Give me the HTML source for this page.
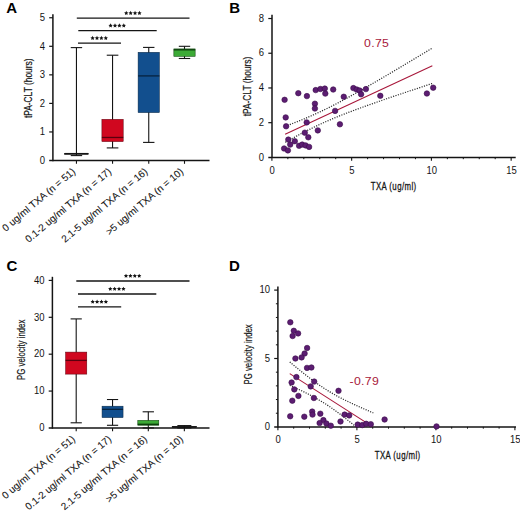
<!DOCTYPE html>
<html><head><meta charset="utf-8"><style>
html,body{margin:0;padding:0;background:#fff;}
svg{display:block;}
text{font-family:"Liberation Sans", sans-serif;}
</style></head><body>
<svg width="520" height="513" viewBox="0 0 520 513">
<rect width="520" height="513" fill="#fff"/>
<text x="6.30" y="12.60" font-size="15" text-anchor="start" fill="#000" font-weight="bold" >A</text>
<text x="229.30" y="12.60" font-size="15" text-anchor="start" fill="#000" font-weight="bold" >B</text>
<text x="6.60" y="271.20" font-size="15" text-anchor="start" fill="#000" font-weight="bold" >C</text>
<text x="229.00" y="271.00" font-size="15" text-anchor="start" fill="#000" font-weight="bold" >D</text>
<line x1="52.90" y1="14.30" x2="52.90" y2="161.20" stroke="#141414" stroke-width="1.5" />
<line x1="49.20" y1="160.50" x2="209.50" y2="160.50" stroke="#141414" stroke-width="1.5" />
<text transform="translate(45.00,163.70) scale(0.95,1)" font-size="10.0" text-anchor="end" fill="#141414">0</text>
<line x1="49.20" y1="131.95" x2="52.90" y2="131.95" stroke="#141414" stroke-width="1.2" />
<text transform="translate(45.00,135.15) scale(0.95,1)" font-size="10.0" text-anchor="end" fill="#141414">1</text>
<line x1="49.20" y1="103.40" x2="52.90" y2="103.40" stroke="#141414" stroke-width="1.2" />
<text transform="translate(45.00,106.60) scale(0.95,1)" font-size="10.0" text-anchor="end" fill="#141414">2</text>
<line x1="49.20" y1="74.85" x2="52.90" y2="74.85" stroke="#141414" stroke-width="1.2" />
<text transform="translate(45.00,78.05) scale(0.95,1)" font-size="10.0" text-anchor="end" fill="#141414">3</text>
<line x1="49.20" y1="46.30" x2="52.90" y2="46.30" stroke="#141414" stroke-width="1.2" />
<text transform="translate(45.00,49.50) scale(0.95,1)" font-size="10.0" text-anchor="end" fill="#141414">4</text>
<line x1="49.20" y1="17.75" x2="52.90" y2="17.75" stroke="#141414" stroke-width="1.2" />
<text transform="translate(45.00,20.95) scale(0.95,1)" font-size="10.0" text-anchor="end" fill="#141414">5</text>
<line x1="76.45" y1="160.50" x2="76.45" y2="163.80" stroke="#141414" stroke-width="1.1" />
<line x1="112.55" y1="160.50" x2="112.55" y2="163.80" stroke="#141414" stroke-width="1.1" />
<line x1="148.75" y1="160.50" x2="148.75" y2="163.80" stroke="#141414" stroke-width="1.1" />
<line x1="184.50" y1="160.50" x2="184.50" y2="163.80" stroke="#141414" stroke-width="1.1" />
<line x1="76.45" y1="47.61" x2="76.45" y2="155.59" stroke="#141414" stroke-width="1.1" />
<line x1="70.75" y1="47.61" x2="82.15" y2="47.61" stroke="#141414" stroke-width="1.1" />
<line x1="70.75" y1="155.59" x2="82.15" y2="155.59" stroke="#141414" stroke-width="1.1" />
<rect x="64.65" y="153.59" width="23.60" height="0.80" fill="#141414" stroke="#141414" stroke-width="0.5"/>
<line x1="64.65" y1="153.59" x2="88.25" y2="153.59" stroke="#141414" stroke-width="1.3" />
<line x1="112.55" y1="55.21" x2="112.55" y2="147.91" stroke="#141414" stroke-width="1.1" />
<line x1="106.75" y1="55.21" x2="118.35" y2="55.21" stroke="#141414" stroke-width="1.1" />
<line x1="106.75" y1="147.91" x2="118.35" y2="147.91" stroke="#141414" stroke-width="1.1" />
<rect x="101.90" y="119.30" width="21.30" height="22.30" fill="#d0071f" stroke="#5a000e" stroke-width="0.5"/>
<line x1="101.90" y1="137.46" x2="123.20" y2="137.46" stroke="#5a000e" stroke-width="1.3" />
<line x1="148.75" y1="47.41" x2="148.75" y2="142.40" stroke="#141414" stroke-width="1.1" />
<line x1="143.05" y1="47.41" x2="154.45" y2="47.41" stroke="#141414" stroke-width="1.1" />
<line x1="143.05" y1="142.40" x2="154.45" y2="142.40" stroke="#141414" stroke-width="1.1" />
<rect x="138.10" y="52.30" width="21.30" height="60.30" fill="#124f8e" stroke="#06233f" stroke-width="0.5"/>
<line x1="138.10" y1="75.91" x2="159.40" y2="75.91" stroke="#06233f" stroke-width="1.3" />
<line x1="184.50" y1="46.30" x2="184.50" y2="58.49" stroke="#141414" stroke-width="1.1" />
<line x1="178.80" y1="46.30" x2="190.20" y2="46.30" stroke="#141414" stroke-width="1.1" />
<line x1="178.80" y1="58.49" x2="190.20" y2="58.49" stroke="#141414" stroke-width="1.1" />
<rect x="173.85" y="48.90" width="21.30" height="7.51" fill="#3caa36" stroke="#0a3a0a" stroke-width="0.5"/>
<line x1="173.85" y1="49.81" x2="195.15" y2="49.81" stroke="#0a3a0a" stroke-width="1.3" />
<line x1="78.00" y1="43.10" x2="121.00" y2="43.10" stroke="#141414" stroke-width="1.3" />
<polygon points="92.60,35.85 93.26,37.19 94.74,37.40 93.67,38.45 93.92,39.92 92.60,39.23 91.28,39.92 91.53,38.45 90.46,37.40 91.94,37.19" fill="#141414"/>
<polygon points="97.00,35.85 97.66,37.19 99.14,37.40 98.07,38.45 98.32,39.92 97.00,39.23 95.68,39.92 95.93,38.45 94.86,37.40 96.34,37.19" fill="#141414"/>
<polygon points="101.40,35.85 102.06,37.19 103.54,37.40 102.47,38.45 102.72,39.92 101.40,39.23 100.08,39.92 100.33,38.45 99.26,37.40 100.74,37.19" fill="#141414"/>
<polygon points="105.80,35.85 106.46,37.19 107.94,37.40 106.87,38.45 107.12,39.92 105.80,39.23 104.48,39.92 104.73,38.45 103.66,37.40 105.14,37.19" fill="#141414"/>
<line x1="78.30" y1="30.60" x2="156.70" y2="30.60" stroke="#141414" stroke-width="1.3" />
<polygon points="110.60,23.35 111.26,24.69 112.74,24.90 111.67,25.95 111.92,27.42 110.60,26.73 109.28,27.42 109.53,25.95 108.46,24.90 109.94,24.69" fill="#141414"/>
<polygon points="115.00,23.35 115.66,24.69 117.14,24.90 116.07,25.95 116.32,27.42 115.00,26.73 113.68,27.42 113.93,25.95 112.86,24.90 114.34,24.69" fill="#141414"/>
<polygon points="119.40,23.35 120.06,24.69 121.54,24.90 120.47,25.95 120.72,27.42 119.40,26.73 118.08,27.42 118.33,25.95 117.26,24.90 118.74,24.69" fill="#141414"/>
<polygon points="123.80,23.35 124.46,24.69 125.94,24.90 124.87,25.95 125.12,27.42 123.80,26.73 122.48,27.42 122.73,25.95 121.66,24.90 123.14,24.69" fill="#141414"/>
<line x1="76.80" y1="18.10" x2="189.50" y2="18.10" stroke="#141414" stroke-width="1.3" />
<polygon points="126.25,10.85 126.91,12.19 128.39,12.40 127.32,13.45 127.57,14.92 126.25,14.23 124.93,14.92 125.18,13.45 124.11,12.40 125.59,12.19" fill="#141414"/>
<polygon points="130.65,10.85 131.31,12.19 132.79,12.40 131.72,13.45 131.97,14.92 130.65,14.23 129.33,14.92 129.58,13.45 128.51,12.40 129.99,12.19" fill="#141414"/>
<polygon points="135.05,10.85 135.71,12.19 137.19,12.40 136.12,13.45 136.37,14.92 135.05,14.23 133.73,14.92 133.98,13.45 132.91,12.40 134.39,12.19" fill="#141414"/>
<polygon points="139.45,10.85 140.11,12.19 141.59,12.40 140.52,13.45 140.77,14.92 139.45,14.23 138.13,14.92 138.38,13.45 137.31,12.40 138.79,12.19" fill="#141414"/>
<text transform="translate(32.00,88.30) rotate(-90) scale(0.84,1)" font-size="10" text-anchor="middle" fill="#141414" stroke="#141414" stroke-width="0.2">tPA-CLT (hours)</text>
<text transform="translate(75.95,172.70) rotate(-40.2)" font-size="10.0" text-anchor="end" fill="#141414" stroke="#141414" stroke-width="0.1">0 ug/ml TXA (n = 51)</text>
<text transform="translate(112.05,172.70) rotate(-40.2)" font-size="10.0" text-anchor="end" fill="#141414" stroke="#141414" stroke-width="0.1">0.1-2 ug/ml TXA (n = 17)</text>
<text transform="translate(148.25,172.70) rotate(-40.2)" font-size="10.0" text-anchor="end" fill="#141414" stroke="#141414" stroke-width="0.1">2.1-5 ug/ml TXA (n = 16)</text>
<text transform="translate(184.00,172.70) rotate(-40.2)" font-size="10.0" text-anchor="end" fill="#141414" stroke="#141414" stroke-width="0.1">&gt;5 ug/ml TXA (n = 10)</text>
<line x1="52.40" y1="276.80" x2="52.40" y2="428.70" stroke="#141414" stroke-width="1.5" />
<line x1="48.70" y1="428.00" x2="209.50" y2="428.00" stroke="#141414" stroke-width="1.5" />
<text transform="translate(44.50,431.15) scale(0.95,1)" font-size="10.0" text-anchor="end" fill="#141414">0</text>
<line x1="48.70" y1="391.07" x2="52.40" y2="391.07" stroke="#141414" stroke-width="1.2" />
<text transform="translate(44.50,394.27) scale(0.95,1)" font-size="10.0" text-anchor="end" fill="#141414">10</text>
<line x1="48.70" y1="354.19" x2="52.40" y2="354.19" stroke="#141414" stroke-width="1.2" />
<text transform="translate(44.50,357.39) scale(0.95,1)" font-size="10.0" text-anchor="end" fill="#141414">20</text>
<line x1="48.70" y1="317.31" x2="52.40" y2="317.31" stroke="#141414" stroke-width="1.2" />
<text transform="translate(44.50,320.51) scale(0.95,1)" font-size="10.0" text-anchor="end" fill="#141414">30</text>
<line x1="48.70" y1="280.43" x2="52.40" y2="280.43" stroke="#141414" stroke-width="1.2" />
<text transform="translate(44.50,283.63) scale(0.95,1)" font-size="10.0" text-anchor="end" fill="#141414">40</text>
<line x1="76.20" y1="428.00" x2="76.20" y2="431.30" stroke="#141414" stroke-width="1.1" />
<line x1="112.55" y1="428.00" x2="112.55" y2="431.30" stroke="#141414" stroke-width="1.1" />
<line x1="148.30" y1="428.00" x2="148.30" y2="431.30" stroke="#141414" stroke-width="1.1" />
<line x1="184.35" y1="428.00" x2="184.35" y2="431.30" stroke="#141414" stroke-width="1.1" />
<line x1="76.20" y1="318.90" x2="76.20" y2="422.79" stroke="#141414" stroke-width="1.1" />
<line x1="70.60" y1="318.90" x2="81.80" y2="318.90" stroke="#141414" stroke-width="1.1" />
<line x1="70.60" y1="422.79" x2="81.80" y2="422.79" stroke="#141414" stroke-width="1.1" />
<rect x="65.60" y="352.09" width="21.20" height="22.02" fill="#d0071f" stroke="#5a000e" stroke-width="0.5"/>
<line x1="65.60" y1="360.39" x2="86.80" y2="360.39" stroke="#5a000e" stroke-width="1.3" />
<line x1="112.55" y1="399.52" x2="112.55" y2="425.29" stroke="#141414" stroke-width="1.1" />
<line x1="106.95" y1="399.52" x2="118.15" y2="399.52" stroke="#141414" stroke-width="1.1" />
<line x1="106.95" y1="425.29" x2="118.15" y2="425.29" stroke="#141414" stroke-width="1.1" />
<rect x="102.05" y="406.19" width="21.00" height="11.40" fill="#124f8e" stroke="#06233f" stroke-width="0.5"/>
<line x1="102.05" y1="409.33" x2="123.05" y2="409.33" stroke="#06233f" stroke-width="1.3" />
<line x1="148.30" y1="411.80" x2="148.30" y2="427.95" stroke="#141414" stroke-width="1.1" />
<line x1="142.65" y1="411.80" x2="153.95" y2="411.80" stroke="#141414" stroke-width="1.1" />
<line x1="142.65" y1="427.95" x2="153.95" y2="427.95" stroke="#141414" stroke-width="1.1" />
<rect x="137.80" y="420.32" width="21.00" height="4.94" fill="#3caa36" stroke="#0a3a0a" stroke-width="0.5"/>
<line x1="137.80" y1="424.30" x2="158.80" y2="424.30" stroke="#0a3a0a" stroke-width="1.3" />
<line x1="184.35" y1="425.59" x2="184.35" y2="427.95" stroke="#141414" stroke-width="1.1" />
<line x1="177.35" y1="425.59" x2="191.35" y2="425.59" stroke="#141414" stroke-width="1.1" />
<line x1="177.35" y1="427.95" x2="191.35" y2="427.95" stroke="#141414" stroke-width="1.1" />
<rect x="172.15" y="426.40" width="24.40" height="0.89" fill="#141414" stroke="#141414" stroke-width="0.5"/>
<line x1="172.15" y1="426.84" x2="196.55" y2="426.84" stroke="#141414" stroke-width="1.3" />
<line x1="78.00" y1="306.80" x2="121.20" y2="306.80" stroke="#141414" stroke-width="1.3" />
<polygon points="92.70,299.55 93.36,300.89 94.84,301.10 93.77,302.15 94.02,303.62 92.70,302.93 91.38,303.62 91.63,302.15 90.56,301.10 92.04,300.89" fill="#141414"/>
<polygon points="97.10,299.55 97.76,300.89 99.24,301.10 98.17,302.15 98.42,303.62 97.10,302.93 95.78,303.62 96.03,302.15 94.96,301.10 96.44,300.89" fill="#141414"/>
<polygon points="101.50,299.55 102.16,300.89 103.64,301.10 102.57,302.15 102.82,303.62 101.50,302.93 100.18,303.62 100.43,302.15 99.36,301.10 100.84,300.89" fill="#141414"/>
<polygon points="105.90,299.55 106.56,300.89 108.04,301.10 106.97,302.15 107.22,303.62 105.90,302.93 104.58,303.62 104.83,302.15 103.76,301.10 105.24,300.89" fill="#141414"/>
<line x1="78.00" y1="294.00" x2="156.30" y2="294.00" stroke="#141414" stroke-width="1.3" />
<polygon points="110.25,286.75 110.91,288.09 112.39,288.30 111.32,289.35 111.57,290.82 110.25,290.12 108.93,290.82 109.18,289.35 108.11,288.30 109.59,288.09" fill="#141414"/>
<polygon points="114.65,286.75 115.31,288.09 116.79,288.30 115.72,289.35 115.97,290.82 114.65,290.12 113.33,290.82 113.58,289.35 112.51,288.30 113.99,288.09" fill="#141414"/>
<polygon points="119.05,286.75 119.71,288.09 121.19,288.30 120.12,289.35 120.37,290.82 119.05,290.12 117.73,290.82 117.98,289.35 116.91,288.30 118.39,288.09" fill="#141414"/>
<polygon points="123.45,286.75 124.11,288.09 125.59,288.30 124.52,289.35 124.77,290.82 123.45,290.12 122.13,290.82 122.38,289.35 121.31,288.30 122.79,288.09" fill="#141414"/>
<line x1="76.30" y1="281.00" x2="189.50" y2="281.00" stroke="#141414" stroke-width="1.3" />
<polygon points="126.00,273.75 126.66,275.09 128.14,275.30 127.07,276.35 127.32,277.82 126.00,277.12 124.68,277.82 124.93,276.35 123.86,275.30 125.34,275.09" fill="#141414"/>
<polygon points="130.40,273.75 131.06,275.09 132.54,275.30 131.47,276.35 131.72,277.82 130.40,277.12 129.08,277.82 129.33,276.35 128.26,275.30 129.74,275.09" fill="#141414"/>
<polygon points="134.80,273.75 135.46,275.09 136.94,275.30 135.87,276.35 136.12,277.82 134.80,277.12 133.48,277.82 133.73,276.35 132.66,275.30 134.14,275.09" fill="#141414"/>
<polygon points="139.20,273.75 139.86,275.09 141.34,275.30 140.27,276.35 140.52,277.82 139.20,277.12 137.88,277.82 138.13,276.35 137.06,275.30 138.54,275.09" fill="#141414"/>
<text transform="translate(25.30,349.80) rotate(-90) scale(0.78,1)" font-size="10" text-anchor="middle" fill="#141414" stroke="#141414" stroke-width="0.2">PG velocity index</text>
<text transform="translate(75.70,440.20) rotate(-40.2)" font-size="10.0" text-anchor="end" fill="#141414" stroke="#141414" stroke-width="0.1">0 ug/ml TXA (n = 51)</text>
<text transform="translate(112.05,440.20) rotate(-40.2)" font-size="10.0" text-anchor="end" fill="#141414" stroke="#141414" stroke-width="0.1">0.1-2 ug/ml TXA (n = 17)</text>
<text transform="translate(147.80,440.20) rotate(-40.2)" font-size="10.0" text-anchor="end" fill="#141414" stroke="#141414" stroke-width="0.1">2.1-5 ug/ml TXA (n = 16)</text>
<text transform="translate(183.85,440.20) rotate(-40.2)" font-size="10.0" text-anchor="end" fill="#141414" stroke="#141414" stroke-width="0.1">&gt;5 ug/ml TXA (n = 10)</text>
<line x1="272.00" y1="14.80" x2="272.00" y2="158.10" stroke="#141414" stroke-width="1.5" />
<line x1="268.30" y1="157.40" x2="515.70" y2="157.40" stroke="#141414" stroke-width="1.5" />
<text transform="translate(264.10,160.60) scale(0.95,1)" font-size="10.0" text-anchor="end" fill="#141414">0</text>
<line x1="268.30" y1="122.68" x2="272.00" y2="122.68" stroke="#141414" stroke-width="1.2" />
<text transform="translate(264.10,125.88) scale(0.95,1)" font-size="10.0" text-anchor="end" fill="#141414">2</text>
<line x1="268.30" y1="87.96" x2="272.00" y2="87.96" stroke="#141414" stroke-width="1.2" />
<text transform="translate(264.10,91.16) scale(0.95,1)" font-size="10.0" text-anchor="end" fill="#141414">4</text>
<line x1="268.30" y1="53.24" x2="272.00" y2="53.24" stroke="#141414" stroke-width="1.2" />
<text transform="translate(264.10,56.44) scale(0.95,1)" font-size="10.0" text-anchor="end" fill="#141414">6</text>
<line x1="268.30" y1="18.52" x2="272.00" y2="18.52" stroke="#141414" stroke-width="1.2" />
<text transform="translate(264.10,21.72) scale(0.95,1)" font-size="10.0" text-anchor="end" fill="#141414">8</text>
<line x1="271.90" y1="157.40" x2="271.90" y2="160.80" stroke="#141414" stroke-width="1.1" />
<text transform="translate(272.20,173.70) scale(0.95,1)" font-size="10.0" text-anchor="middle" fill="#141414">0</text>
<line x1="287.85" y1="157.40" x2="287.85" y2="159.20" stroke="#141414" stroke-width="1.0" />
<line x1="303.80" y1="157.40" x2="303.80" y2="159.20" stroke="#141414" stroke-width="1.0" />
<line x1="319.75" y1="157.40" x2="319.75" y2="159.20" stroke="#141414" stroke-width="1.0" />
<line x1="335.70" y1="157.40" x2="335.70" y2="159.20" stroke="#141414" stroke-width="1.0" />
<line x1="351.65" y1="157.40" x2="351.65" y2="160.80" stroke="#141414" stroke-width="1.1" />
<text transform="translate(351.95,173.70) scale(0.95,1)" font-size="10.0" text-anchor="middle" fill="#141414">5</text>
<line x1="367.60" y1="157.40" x2="367.60" y2="159.20" stroke="#141414" stroke-width="1.0" />
<line x1="383.55" y1="157.40" x2="383.55" y2="159.20" stroke="#141414" stroke-width="1.0" />
<line x1="399.50" y1="157.40" x2="399.50" y2="159.20" stroke="#141414" stroke-width="1.0" />
<line x1="415.45" y1="157.40" x2="415.45" y2="159.20" stroke="#141414" stroke-width="1.0" />
<line x1="431.40" y1="157.40" x2="431.40" y2="160.80" stroke="#141414" stroke-width="1.1" />
<text transform="translate(431.70,173.70) scale(0.95,1)" font-size="10.0" text-anchor="middle" fill="#141414">10</text>
<line x1="447.35" y1="157.40" x2="447.35" y2="159.20" stroke="#141414" stroke-width="1.0" />
<line x1="463.30" y1="157.40" x2="463.30" y2="159.20" stroke="#141414" stroke-width="1.0" />
<line x1="479.25" y1="157.40" x2="479.25" y2="159.20" stroke="#141414" stroke-width="1.0" />
<line x1="495.20" y1="157.40" x2="495.20" y2="159.20" stroke="#141414" stroke-width="1.0" />
<line x1="511.15" y1="157.40" x2="511.15" y2="160.80" stroke="#141414" stroke-width="1.1" />
<text transform="translate(511.45,173.70) scale(0.95,1)" font-size="10.0" text-anchor="middle" fill="#141414">15</text>
<polyline points="285.14,126.35 285.87,126.07 286.61,125.80 287.35,125.52 288.08,125.24 288.82,124.96 289.56,124.68 290.29,124.40 291.03,124.11 291.76,123.83 292.50,123.54 293.24,123.26 293.97,122.97 294.71,122.68 295.44,122.39 296.18,122.10 296.92,121.81 297.65,121.51 298.39,121.22 299.12,120.92 299.86,120.63 300.60,120.33 301.33,120.03 302.07,119.72 302.80,119.42 303.54,119.12 304.28,118.81 305.01,118.50 305.75,118.19 306.49,117.88 307.22,117.57 307.96,117.25 308.69,116.94 309.43,116.62 310.17,116.30 310.90,115.98 311.64,115.65 312.37,115.33 313.11,115.00 313.85,114.67 314.58,114.34 315.32,114.01 316.05,113.68 316.79,113.34 317.53,113.00 318.26,112.66 319.00,112.32 319.73,111.98 320.47,111.63 321.21,111.28 321.94,110.94 322.68,110.58 323.42,110.23 324.15,109.88 324.89,109.52 325.62,109.16 326.36,108.80 327.10,108.44 327.83,108.08 328.57,107.71 329.30,107.35 330.04,106.98 330.78,106.61 331.51,106.24 332.25,105.86 332.98,105.49 333.72,105.11 334.46,104.73 335.19,104.35 335.93,103.97 336.66,103.59 337.40,103.20 338.14,102.82 338.87,102.43 339.61,102.04 340.35,101.65 341.08,101.26 341.82,100.87 342.55,100.47 343.29,100.08 344.03,99.68 344.76,99.28 345.50,98.88 346.23,98.48 346.97,98.08 347.71,97.68 348.44,97.28 349.18,96.87 349.91,96.47 350.65,96.06 351.39,95.65 352.12,95.24 352.86,94.84 353.60,94.43 354.33,94.01 355.07,93.60 355.80,93.19 356.54,92.78 357.28,92.36 358.01,91.95 358.75,91.53 359.48,91.11 360.22,90.70 360.96,90.28 361.69,89.86 362.43,89.44 363.16,89.02 363.90,88.60 364.64,88.18 365.37,87.76 366.11,87.34 366.84,86.91 367.58,86.49 368.32,86.07 369.05,85.64 369.79,85.22 370.53,84.79 371.26,84.36 372.00,83.94 372.73,83.51 373.47,83.08 374.21,82.66 374.94,82.23 375.68,81.80 376.41,81.37 377.15,80.94 377.89,80.51 378.62,80.08 379.36,79.65 380.09,79.22 380.83,78.79 381.57,78.36 382.30,77.92 383.04,77.49 383.77,77.06 384.51,76.63 385.25,76.19 385.98,75.76 386.72,75.33 387.46,74.89 388.19,74.46 388.93,74.02 389.66,73.59 390.40,73.15 391.14,72.72 391.87,72.28 392.61,71.84 393.34,71.41 394.08,70.97 394.82,70.54 395.55,70.10 396.29,69.66 397.02,69.22 397.76,68.79 398.50,68.35 399.23,67.91 399.97,67.47 400.71,67.03 401.44,66.60 402.18,66.16 402.91,65.72 403.65,65.28 404.39,64.84 405.12,64.40 405.86,63.96 406.59,63.52 407.33,63.08 408.07,62.64 408.80,62.20 409.54,61.76 410.27,61.32 411.01,60.88 411.75,60.44 412.48,60.00 413.22,59.56 413.95,59.12 414.69,58.68 415.43,58.24 416.16,57.79 416.90,57.35 417.64,56.91 418.37,56.47 419.11,56.03 419.84,55.58 420.58,55.14 421.32,54.70 422.05,54.26 422.79,53.82 423.52,53.37 424.26,52.93 425.00,52.49 425.73,52.04 426.47,51.60 427.20,51.16 427.94,50.71 428.68,50.27 429.41,49.83 430.15,49.38 430.88,48.94 431.62,48.50 432.36,48.05" fill="none" stroke="#2a2a2a" stroke-width="1.25" stroke-dasharray="1.1,1.4"/>
<polyline points="285.14,142.33 285.87,141.92 286.61,141.51 287.35,141.11 288.08,140.70 288.82,140.29 289.56,139.89 290.29,139.48 291.03,139.08 291.76,138.68 292.50,138.28 293.24,137.88 293.97,137.48 294.71,137.08 295.44,136.69 296.18,136.29 296.92,135.90 297.65,135.51 298.39,135.12 299.12,134.73 299.86,134.34 300.60,133.95 301.33,133.57 302.07,133.18 302.80,132.80 303.54,132.42 304.28,132.04 305.01,131.66 305.75,131.29 306.49,130.91 307.22,130.54 307.96,130.17 308.69,129.80 309.43,129.43 310.17,129.07 310.90,128.70 311.64,128.34 312.37,127.98 313.11,127.62 313.85,127.26 314.58,126.91 315.32,126.55 316.05,126.20 316.79,125.85 317.53,125.51 318.26,125.16 319.00,124.81 319.73,124.47 320.47,124.13 321.21,123.79 321.94,123.46 322.68,123.12 323.42,122.79 324.15,122.46 324.89,122.13 325.62,121.80 326.36,121.47 327.10,121.15 327.83,120.83 328.57,120.51 329.30,120.19 330.04,119.87 330.78,119.56 331.51,119.24 332.25,118.93 332.98,118.62 333.72,118.31 334.46,118.00 335.19,117.70 335.93,117.39 336.66,117.09 337.40,116.79 338.14,116.49 338.87,116.19 339.61,115.89 340.35,115.60 341.08,115.30 341.82,115.01 342.55,114.72 343.29,114.43 344.03,114.14 344.76,113.85 345.50,113.56 346.23,113.28 346.97,112.99 347.71,112.71 348.44,112.43 349.18,112.15 349.91,111.86 350.65,111.59 351.39,111.31 352.12,111.03 352.86,110.75 353.60,110.48 354.33,110.20 355.07,109.93 355.80,109.66 356.54,109.38 357.28,109.11 358.01,108.84 358.75,108.57 359.48,108.30 360.22,108.03 360.96,107.77 361.69,107.50 362.43,107.23 363.16,106.97 363.90,106.70 364.64,106.44 365.37,106.17 366.11,105.91 366.84,105.65 367.58,105.38 368.32,105.12 369.05,104.86 369.79,104.60 370.53,104.34 371.26,104.08 372.00,103.82 372.73,103.56 373.47,103.30 374.21,103.04 374.94,102.79 375.68,102.53 376.41,102.27 377.15,102.02 377.89,101.76 378.62,101.51 379.36,101.25 380.09,101.00 380.83,100.74 381.57,100.49 382.30,100.23 383.04,99.98 383.77,99.73 384.51,99.47 385.25,99.22 385.98,98.97 386.72,98.72 387.46,98.47 388.19,98.21 388.93,97.96 389.66,97.71 390.40,97.46 391.14,97.21 391.87,96.96 392.61,96.71 393.34,96.46 394.08,96.21 394.82,95.96 395.55,95.71 396.29,95.47 397.02,95.22 397.76,94.97 398.50,94.72 399.23,94.47 399.97,94.22 400.71,93.98 401.44,93.73 402.18,93.48 402.91,93.24 403.65,92.99 404.39,92.74 405.12,92.50 405.86,92.25 406.59,92.00 407.33,91.76 408.07,91.51 408.80,91.27 409.54,91.02 410.27,90.77 411.01,90.53 411.75,90.28 412.48,90.04 413.22,89.79 413.95,89.55 414.69,89.31 415.43,89.06 416.16,88.82 416.90,88.57 417.64,88.33 418.37,88.08 419.11,87.84 419.84,87.60 420.58,87.35 421.32,87.11 422.05,86.87 422.79,86.62 423.52,86.38 424.26,86.14 425.00,85.89 425.73,85.65 426.47,85.41 427.20,85.16 427.94,84.92 428.68,84.68 429.41,84.44 430.15,84.19 430.88,83.95 431.62,83.71 432.36,83.47" fill="none" stroke="#2a2a2a" stroke-width="1.25" stroke-dasharray="1.1,1.4"/>
<line x1="285.14" y1="134.34" x2="432.36" y2="65.76" stroke="#a8173a" stroke-width="1.1" />
<circle cx="284.60" cy="99.80" r="2.75" fill="#5c1d72" stroke="#3a0c4a" stroke-width="0.6"/>
<circle cx="298.30" cy="93.20" r="2.75" fill="#5c1d72" stroke="#3a0c4a" stroke-width="0.6"/>
<circle cx="306.90" cy="96.10" r="2.75" fill="#5c1d72" stroke="#3a0c4a" stroke-width="0.6"/>
<circle cx="315.70" cy="90.10" r="2.75" fill="#5c1d72" stroke="#3a0c4a" stroke-width="0.6"/>
<circle cx="320.40" cy="89.00" r="2.75" fill="#5c1d72" stroke="#3a0c4a" stroke-width="0.6"/>
<circle cx="324.80" cy="88.60" r="2.75" fill="#5c1d72" stroke="#3a0c4a" stroke-width="0.6"/>
<circle cx="325.30" cy="93.60" r="2.75" fill="#5c1d72" stroke="#3a0c4a" stroke-width="0.6"/>
<circle cx="333.20" cy="89.50" r="2.75" fill="#5c1d72" stroke="#3a0c4a" stroke-width="0.6"/>
<circle cx="343.75" cy="96.75" r="2.75" fill="#5c1d72" stroke="#3a0c4a" stroke-width="0.6"/>
<circle cx="353.40" cy="88.10" r="2.75" fill="#5c1d72" stroke="#3a0c4a" stroke-width="0.6"/>
<circle cx="356.70" cy="89.50" r="2.75" fill="#5c1d72" stroke="#3a0c4a" stroke-width="0.6"/>
<circle cx="359.60" cy="90.50" r="2.75" fill="#5c1d72" stroke="#3a0c4a" stroke-width="0.6"/>
<circle cx="361.10" cy="94.30" r="2.75" fill="#5c1d72" stroke="#3a0c4a" stroke-width="0.6"/>
<circle cx="365.90" cy="89.10" r="2.75" fill="#5c1d72" stroke="#3a0c4a" stroke-width="0.6"/>
<circle cx="380.30" cy="95.80" r="2.75" fill="#5c1d72" stroke="#3a0c4a" stroke-width="0.6"/>
<circle cx="426.90" cy="93.50" r="2.75" fill="#5c1d72" stroke="#3a0c4a" stroke-width="0.6"/>
<circle cx="433.20" cy="87.70" r="2.75" fill="#5c1d72" stroke="#3a0c4a" stroke-width="0.6"/>
<circle cx="314.90" cy="103.70" r="2.75" fill="#5c1d72" stroke="#3a0c4a" stroke-width="0.6"/>
<circle cx="314.90" cy="108.50" r="2.75" fill="#5c1d72" stroke="#3a0c4a" stroke-width="0.6"/>
<circle cx="285.70" cy="117.40" r="2.75" fill="#5c1d72" stroke="#3a0c4a" stroke-width="0.6"/>
<circle cx="286.10" cy="126.30" r="2.75" fill="#5c1d72" stroke="#3a0c4a" stroke-width="0.6"/>
<circle cx="306.70" cy="122.40" r="2.75" fill="#5c1d72" stroke="#3a0c4a" stroke-width="0.6"/>
<circle cx="335.10" cy="110.90" r="2.75" fill="#5c1d72" stroke="#3a0c4a" stroke-width="0.6"/>
<circle cx="339.90" cy="124.30" r="2.75" fill="#5c1d72" stroke="#3a0c4a" stroke-width="0.6"/>
<circle cx="317.80" cy="130.40" r="2.75" fill="#5c1d72" stroke="#3a0c4a" stroke-width="0.6"/>
<circle cx="304.80" cy="132.70" r="2.75" fill="#5c1d72" stroke="#3a0c4a" stroke-width="0.6"/>
<circle cx="308.30" cy="137.30" r="2.75" fill="#5c1d72" stroke="#3a0c4a" stroke-width="0.6"/>
<circle cx="288.30" cy="139.60" r="2.75" fill="#5c1d72" stroke="#3a0c4a" stroke-width="0.6"/>
<circle cx="294.80" cy="141.20" r="2.75" fill="#5c1d72" stroke="#3a0c4a" stroke-width="0.6"/>
<circle cx="290.20" cy="144.60" r="2.75" fill="#5c1d72" stroke="#3a0c4a" stroke-width="0.6"/>
<circle cx="284.10" cy="148.50" r="2.75" fill="#5c1d72" stroke="#3a0c4a" stroke-width="0.6"/>
<circle cx="287.90" cy="150.40" r="2.75" fill="#5c1d72" stroke="#3a0c4a" stroke-width="0.6"/>
<circle cx="299.10" cy="145.80" r="2.75" fill="#5c1d72" stroke="#3a0c4a" stroke-width="0.6"/>
<circle cx="302.20" cy="144.60" r="2.75" fill="#5c1d72" stroke="#3a0c4a" stroke-width="0.6"/>
<circle cx="305.60" cy="145.40" r="2.75" fill="#5c1d72" stroke="#3a0c4a" stroke-width="0.6"/>
<circle cx="309.10" cy="146.90" r="2.75" fill="#5c1d72" stroke="#3a0c4a" stroke-width="0.6"/>
<text transform="translate(364.00,47.30) scale(1.06,1)" font-size="11.6" letter-spacing="0.3" fill="#a8173a">0.75</text>
<text transform="translate(393.65,189.90) scale(0.7,1)" font-size="11.2" letter-spacing="0.6" text-anchor="middle" fill="#141414" stroke="#141414" stroke-width="0.3">TXA (ug/ml)</text>
<text transform="translate(251.00,86.50) rotate(-90) scale(0.84,1)" font-size="10" text-anchor="middle" fill="#141414" stroke="#141414" stroke-width="0.2">tPA-CLT (hours)</text>
<line x1="277.90" y1="286.60" x2="277.90" y2="427.60" stroke="#141414" stroke-width="1.5" />
<line x1="274.20" y1="426.90" x2="516.00" y2="426.90" stroke="#141414" stroke-width="1.5" />
<text transform="translate(270.00,430.10) scale(0.95,1)" font-size="10.0" text-anchor="end" fill="#141414">0</text>
<line x1="274.20" y1="358.50" x2="277.90" y2="358.50" stroke="#141414" stroke-width="1.2" />
<text transform="translate(270.00,361.70) scale(0.95,1)" font-size="10.0" text-anchor="end" fill="#141414">5</text>
<line x1="274.20" y1="290.10" x2="277.90" y2="290.10" stroke="#141414" stroke-width="1.2" />
<text transform="translate(270.00,293.30) scale(0.95,1)" font-size="10.0" text-anchor="end" fill="#141414">10</text>
<line x1="275.90" y1="413.22" x2="277.90" y2="413.22" stroke="#141414" stroke-width="1.0" />
<line x1="275.90" y1="399.54" x2="277.90" y2="399.54" stroke="#141414" stroke-width="1.0" />
<line x1="275.90" y1="385.86" x2="277.90" y2="385.86" stroke="#141414" stroke-width="1.0" />
<line x1="275.90" y1="372.18" x2="277.90" y2="372.18" stroke="#141414" stroke-width="1.0" />
<line x1="275.90" y1="344.82" x2="277.90" y2="344.82" stroke="#141414" stroke-width="1.0" />
<line x1="275.90" y1="331.14" x2="277.90" y2="331.14" stroke="#141414" stroke-width="1.0" />
<line x1="275.90" y1="317.46" x2="277.90" y2="317.46" stroke="#141414" stroke-width="1.0" />
<line x1="275.90" y1="303.78" x2="277.90" y2="303.78" stroke="#141414" stroke-width="1.0" />
<line x1="277.90" y1="426.90" x2="277.90" y2="430.30" stroke="#141414" stroke-width="1.1" />
<text transform="translate(278.20,443.20) scale(0.95,1)" font-size="10.0" text-anchor="middle" fill="#141414">0</text>
<line x1="293.70" y1="426.90" x2="293.70" y2="428.70" stroke="#141414" stroke-width="1.0" />
<line x1="309.50" y1="426.90" x2="309.50" y2="428.70" stroke="#141414" stroke-width="1.0" />
<line x1="325.30" y1="426.90" x2="325.30" y2="428.70" stroke="#141414" stroke-width="1.0" />
<line x1="341.10" y1="426.90" x2="341.10" y2="428.70" stroke="#141414" stroke-width="1.0" />
<line x1="356.90" y1="426.90" x2="356.90" y2="430.30" stroke="#141414" stroke-width="1.1" />
<text transform="translate(357.20,443.20) scale(0.95,1)" font-size="10.0" text-anchor="middle" fill="#141414">5</text>
<line x1="372.70" y1="426.90" x2="372.70" y2="428.70" stroke="#141414" stroke-width="1.0" />
<line x1="388.50" y1="426.90" x2="388.50" y2="428.70" stroke="#141414" stroke-width="1.0" />
<line x1="404.30" y1="426.90" x2="404.30" y2="428.70" stroke="#141414" stroke-width="1.0" />
<line x1="420.10" y1="426.90" x2="420.10" y2="428.70" stroke="#141414" stroke-width="1.0" />
<line x1="435.90" y1="426.90" x2="435.90" y2="430.30" stroke="#141414" stroke-width="1.1" />
<text transform="translate(436.20,443.20) scale(0.95,1)" font-size="10.0" text-anchor="middle" fill="#141414">10</text>
<line x1="451.70" y1="426.90" x2="451.70" y2="428.70" stroke="#141414" stroke-width="1.0" />
<line x1="467.50" y1="426.90" x2="467.50" y2="428.70" stroke="#141414" stroke-width="1.0" />
<line x1="483.30" y1="426.90" x2="483.30" y2="428.70" stroke="#141414" stroke-width="1.0" />
<line x1="499.10" y1="426.90" x2="499.10" y2="428.70" stroke="#141414" stroke-width="1.0" />
<line x1="514.90" y1="426.90" x2="514.90" y2="430.30" stroke="#141414" stroke-width="1.1" />
<text transform="translate(515.20,443.20) scale(0.95,1)" font-size="10.0" text-anchor="middle" fill="#141414">15</text>
<polyline points="289.75,361.95 290.17,362.30 290.59,362.65 291.00,363.00 291.42,363.35 291.84,363.70 292.26,364.05 292.68,364.40 293.09,364.74 293.51,365.09 293.93,365.44 294.35,365.78 294.76,366.13 295.18,366.47 295.60,366.82 296.02,367.16 296.44,367.51 296.85,367.85 297.27,368.19 297.69,368.53 298.11,368.87 298.53,369.22 298.94,369.56 299.36,369.90 299.78,370.23 300.20,370.57 300.62,370.91 301.03,371.25 301.45,371.58 301.87,371.92 302.29,372.25 302.71,372.59 303.12,372.92 303.54,373.25 303.96,373.58 304.38,373.91 304.79,374.24 305.21,374.57 305.63,374.90 306.05,375.23 306.47,375.56 306.88,375.88 307.30,376.21 307.72,376.53 308.14,376.85 308.56,377.17 308.97,377.50 309.39,377.82 309.81,378.13 310.23,378.45 310.65,378.77 311.06,379.08 311.48,379.40 311.90,379.71 312.32,380.02 312.74,380.34 313.15,380.64 313.57,380.95 313.99,381.26 314.41,381.57 314.82,381.87 315.24,382.18 315.66,382.48 316.08,382.78 316.50,383.08 316.91,383.38 317.33,383.67 317.75,383.97 318.17,384.26 318.59,384.56 319.00,384.85 319.42,385.14 319.84,385.42 320.26,385.71 320.68,386.00 321.09,386.28 321.51,386.56 321.93,386.84 322.35,387.12 322.76,387.40 323.18,387.68 323.60,387.95 324.02,388.23 324.44,388.50 324.85,388.77 325.27,389.04 325.69,389.30 326.11,389.57 326.53,389.83 326.94,390.10 327.36,390.36 327.78,390.62 328.20,390.87 328.62,391.13 329.03,391.38 329.45,391.64 329.87,391.89 330.29,392.14 330.71,392.39 331.12,392.64 331.54,392.88 331.96,393.13 332.38,393.37 332.79,393.61 333.21,393.85 333.63,394.09 334.05,394.33 334.47,394.56 334.88,394.80 335.30,395.03 335.72,395.26 336.14,395.50 336.56,395.72 336.97,395.95 337.39,396.18 337.81,396.41 338.23,396.63 338.65,396.85 339.06,397.08 339.48,397.30 339.90,397.52 340.32,397.74 340.74,397.96 341.15,398.17 341.57,398.39 341.99,398.60 342.41,398.82 342.82,399.03 343.24,399.24 343.66,399.45 344.08,399.66 344.50,399.87 344.91,400.08 345.33,400.29 345.75,400.49 346.17,400.70 346.59,400.90 347.00,401.11 347.42,401.31 347.84,401.51 348.26,401.71 348.68,401.92 349.09,402.12 349.51,402.32 349.93,402.51 350.35,402.71 350.76,402.91 351.18,403.11 351.60,403.30 352.02,403.50 352.44,403.69 352.85,403.89 353.27,404.08 353.69,404.27 354.11,404.47 354.53,404.66 354.94,404.85 355.36,405.04 355.78,405.23 356.20,405.42 356.62,405.61 357.03,405.80 357.45,405.99 357.87,406.18 358.29,406.37 358.71,406.55 359.12,406.74 359.54,406.93 359.96,407.11 360.38,407.30 360.79,407.48 361.21,407.67 361.63,407.85 362.05,408.04 362.47,408.22 362.88,408.40 363.30,408.58 363.72,408.77 364.14,408.95 364.56,409.13 364.97,409.31 365.39,409.49 365.81,409.68 366.23,409.86 366.65,410.04 367.06,410.22 367.48,410.40 367.90,410.58 368.32,410.76 368.73,410.93 369.15,411.11 369.57,411.29 369.99,411.47 370.41,411.65 370.82,411.83 371.24,412.00 371.66,412.18 372.08,412.36 372.50,412.53 372.91,412.71 373.33,412.89" fill="none" stroke="#2a2a2a" stroke-width="1.25" stroke-dasharray="1.1,1.4"/>
<polyline points="289.75,385.34 290.17,385.52 290.59,385.71 291.00,385.89 291.42,386.08 291.84,386.26 292.26,386.45 292.68,386.64 293.09,386.83 293.51,387.02 293.93,387.21 294.35,387.39 294.76,387.58 295.18,387.77 295.60,387.97 296.02,388.16 296.44,388.35 296.85,388.54 297.27,388.73 297.69,388.93 298.11,389.12 298.53,389.32 298.94,389.51 299.36,389.71 299.78,389.91 300.20,390.10 300.62,390.30 301.03,390.50 301.45,390.70 301.87,390.90 302.29,391.10 302.71,391.30 303.12,391.50 303.54,391.71 303.96,391.91 304.38,392.12 304.79,392.32 305.21,392.53 305.63,392.74 306.05,392.94 306.47,393.15 306.88,393.36 307.30,393.57 307.72,393.78 308.14,394.00 308.56,394.21 308.97,394.43 309.39,394.64 309.81,394.86 310.23,395.08 310.65,395.29 311.06,395.51 311.48,395.74 311.90,395.96 312.32,396.18 312.74,396.41 313.15,396.63 313.57,396.86 313.99,397.09 314.41,397.32 314.82,397.55 315.24,397.78 315.66,398.01 316.08,398.25 316.50,398.48 316.91,398.72 317.33,398.96 317.75,399.20 318.17,399.44 318.59,399.68 319.00,399.93 319.42,400.17 319.84,400.42 320.26,400.67 320.68,400.92 321.09,401.17 321.51,401.42 321.93,401.68 322.35,401.93 322.76,402.19 323.18,402.45 323.60,402.71 324.02,402.97 324.44,403.24 324.85,403.50 325.27,403.77 325.69,404.04 326.11,404.31 326.53,404.58 326.94,404.85 327.36,405.13 327.78,405.40 328.20,405.68 328.62,405.96 329.03,406.24 329.45,406.52 329.87,406.81 330.29,407.09 330.71,407.38 331.12,407.67 331.54,407.96 331.96,408.25 332.38,408.54 332.79,408.83 333.21,409.13 333.63,409.43 334.05,409.72 334.47,410.02 334.88,410.32 335.30,410.63 335.72,410.93 336.14,411.23 336.56,411.54 336.97,411.85 337.39,412.16 337.81,412.47 338.23,412.78 338.65,413.09 339.06,413.40 339.48,413.72 339.90,414.03 340.32,414.35 340.74,414.67 341.15,414.98 341.57,415.30 341.99,415.62 342.41,415.95 342.82,416.27 343.24,416.59 343.66,416.92 344.08,417.24 344.50,417.57 344.91,417.90 345.33,418.22 345.75,418.55 346.17,418.88 346.59,419.21 347.00,419.55 347.42,419.88 347.84,420.21 348.26,420.55 348.68,420.88 349.09,421.21 349.51,421.55 349.93,421.89 350.35,422.23 350.76,422.56 351.18,422.90 351.60,423.24 352.02,423.58 352.44,423.92 352.85,424.26 353.27,424.60 353.69,424.95 354.11,425.29 354.53,425.63 354.94,425.98 355.36,426.32 355.78,426.67" fill="none" stroke="#2a2a2a" stroke-width="1.25" stroke-dasharray="1.1,1.4"/>
<line x1="289.75" y1="373.64" x2="372.50" y2="426.66" stroke="#a8173a" stroke-width="1.1" />
<circle cx="290.30" cy="322.30" r="2.75" fill="#5c1d72" stroke="#3a0c4a" stroke-width="0.6"/>
<circle cx="293.80" cy="330.80" r="2.75" fill="#5c1d72" stroke="#3a0c4a" stroke-width="0.6"/>
<circle cx="298.10" cy="333.40" r="2.75" fill="#5c1d72" stroke="#3a0c4a" stroke-width="0.6"/>
<circle cx="292.60" cy="336.00" r="2.75" fill="#5c1d72" stroke="#3a0c4a" stroke-width="0.6"/>
<circle cx="307.10" cy="348.00" r="2.75" fill="#5c1d72" stroke="#3a0c4a" stroke-width="0.6"/>
<circle cx="304.60" cy="353.50" r="2.75" fill="#5c1d72" stroke="#3a0c4a" stroke-width="0.6"/>
<circle cx="301.60" cy="357.40" r="2.75" fill="#5c1d72" stroke="#3a0c4a" stroke-width="0.6"/>
<circle cx="295.40" cy="358.50" r="2.75" fill="#5c1d72" stroke="#3a0c4a" stroke-width="0.6"/>
<circle cx="307.00" cy="367.90" r="2.75" fill="#5c1d72" stroke="#3a0c4a" stroke-width="0.6"/>
<circle cx="311.40" cy="367.50" r="2.75" fill="#5c1d72" stroke="#3a0c4a" stroke-width="0.6"/>
<circle cx="296.40" cy="377.10" r="2.75" fill="#5c1d72" stroke="#3a0c4a" stroke-width="0.6"/>
<circle cx="291.60" cy="382.50" r="2.75" fill="#5c1d72" stroke="#3a0c4a" stroke-width="0.6"/>
<circle cx="314.20" cy="381.60" r="2.75" fill="#5c1d72" stroke="#3a0c4a" stroke-width="0.6"/>
<circle cx="310.70" cy="386.40" r="2.75" fill="#5c1d72" stroke="#3a0c4a" stroke-width="0.6"/>
<circle cx="294.30" cy="389.40" r="2.75" fill="#5c1d72" stroke="#3a0c4a" stroke-width="0.6"/>
<circle cx="298.40" cy="395.90" r="2.75" fill="#5c1d72" stroke="#3a0c4a" stroke-width="0.6"/>
<circle cx="313.90" cy="398.00" r="2.75" fill="#5c1d72" stroke="#3a0c4a" stroke-width="0.6"/>
<circle cx="292.30" cy="400.70" r="2.75" fill="#5c1d72" stroke="#3a0c4a" stroke-width="0.6"/>
<circle cx="290.20" cy="416.30" r="2.75" fill="#5c1d72" stroke="#3a0c4a" stroke-width="0.6"/>
<circle cx="304.30" cy="416.70" r="2.75" fill="#5c1d72" stroke="#3a0c4a" stroke-width="0.6"/>
<circle cx="312.20" cy="411.60" r="2.75" fill="#5c1d72" stroke="#3a0c4a" stroke-width="0.6"/>
<circle cx="312.50" cy="414.60" r="2.75" fill="#5c1d72" stroke="#3a0c4a" stroke-width="0.6"/>
<circle cx="320.30" cy="413.70" r="2.75" fill="#5c1d72" stroke="#3a0c4a" stroke-width="0.6"/>
<circle cx="323.40" cy="420.10" r="2.75" fill="#5c1d72" stroke="#3a0c4a" stroke-width="0.6"/>
<circle cx="319.60" cy="423.10" r="2.75" fill="#5c1d72" stroke="#3a0c4a" stroke-width="0.6"/>
<circle cx="326.40" cy="423.50" r="2.75" fill="#5c1d72" stroke="#3a0c4a" stroke-width="0.6"/>
<circle cx="338.50" cy="390.80" r="2.75" fill="#5c1d72" stroke="#3a0c4a" stroke-width="0.6"/>
<circle cx="344.60" cy="414.60" r="2.75" fill="#5c1d72" stroke="#3a0c4a" stroke-width="0.6"/>
<circle cx="349.20" cy="415.40" r="2.75" fill="#5c1d72" stroke="#3a0c4a" stroke-width="0.6"/>
<circle cx="340.50" cy="421.50" r="2.75" fill="#5c1d72" stroke="#3a0c4a" stroke-width="0.6"/>
<circle cx="330.80" cy="425.70" r="2.75" fill="#5c1d72" stroke="#3a0c4a" stroke-width="0.6"/>
<circle cx="357.70" cy="424.60" r="2.75" fill="#5c1d72" stroke="#3a0c4a" stroke-width="0.6"/>
<circle cx="362.30" cy="425.10" r="2.75" fill="#5c1d72" stroke="#3a0c4a" stroke-width="0.6"/>
<circle cx="366.20" cy="423.80" r="2.75" fill="#5c1d72" stroke="#3a0c4a" stroke-width="0.6"/>
<circle cx="370.80" cy="424.20" r="2.75" fill="#5c1d72" stroke="#3a0c4a" stroke-width="0.6"/>
<circle cx="384.60" cy="419.50" r="2.75" fill="#5c1d72" stroke="#3a0c4a" stroke-width="0.6"/>
<circle cx="436.50" cy="426.40" r="2.75" fill="#5c1d72" stroke="#3a0c4a" stroke-width="0.6"/>
<text transform="translate(349.50,385.40) scale(1.06,1)" font-size="11.6" letter-spacing="0.3" fill="#a8173a">-0.79</text>
<text transform="translate(397.65,459.20) scale(0.7,1)" font-size="11.2" letter-spacing="0.6" text-anchor="middle" fill="#141414" stroke="#141414" stroke-width="0.3">TXA (ug/ml)</text>
<text transform="translate(251.60,354.40) rotate(-90) scale(0.78,1)" font-size="10" text-anchor="middle" fill="#141414" stroke="#141414" stroke-width="0.2">PG velocity index</text>
</svg>
</body></html>
